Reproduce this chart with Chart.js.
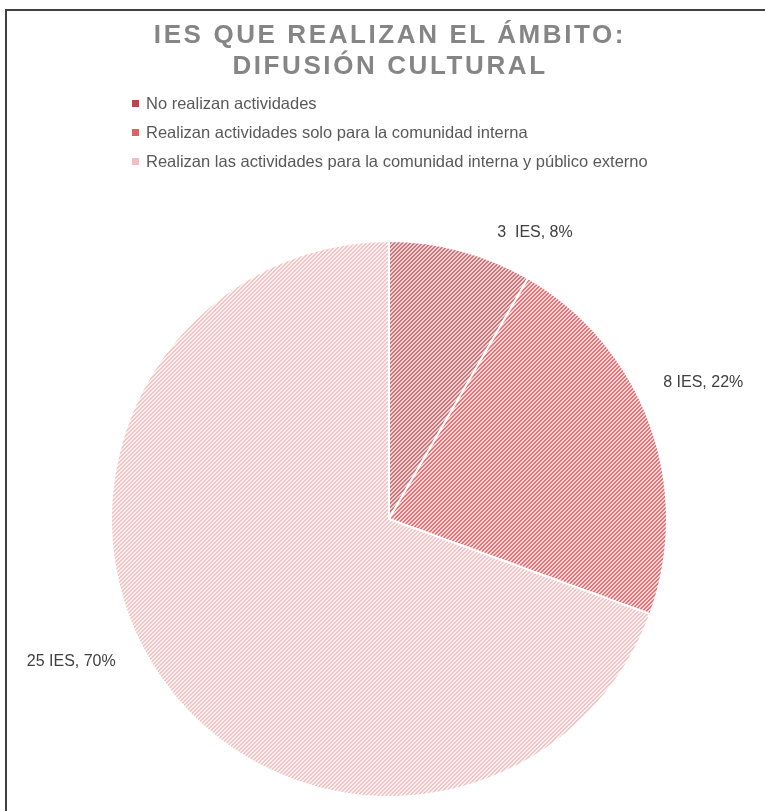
<!DOCTYPE html>
<html lang="es">
<head>
<meta charset="utf-8"/>
<title>IES que realizan el ámbito: Difusión cultural</title>
<script src="https://cdn.jsdelivr.net/npm/chart.js"></script>
<style>
    body {
        margin: 0;
        background: #ffffff;
        font-family: 'Liberation Sans', Arial, sans-serif;
    }
    .frame {
        position: relative;
        width: 765px;
        height: 811px;
        overflow: hidden;
    }
    .frame:before {
        content: '';
        position: absolute;
        left: 5px;
        top: 9px;
        right: 0;
        bottom: 0;
        border-left: 2px solid #404040;
        border-top: 2px solid #404040;
    }
    .title {
        position: absolute;
        left: 0;
        width: 780px;
        top: 19px;
        text-align: center;
        font-weight: bold;
        font-size: 26px;
        line-height: 31px;
        letter-spacing: 2.6px;
        color: #858585;
    }
    .legend {
        position: absolute;
        left: 132px;
        top: 93px;
        font-size: 16.5px;
        color: #595959;
    }
    .legend div {
        height: 29px;
        line-height: 21px;
    }
    .legend span.box {
        display: inline-block;
        width: 7px;
        height: 7px;
        margin-right: 7px;
        vertical-align: 2px;
    }
    canvas {
        position: absolute;
        left: 0;
        top: 0;
    }
</style>
</head>
<body>
<div class="frame">
    <canvas id="pieChart" width="765" height="811"></canvas>
    <div class="title">IES QUE REALIZAN EL ÁMBITO:<br/>DIFUSIÓN CULTURAL</div>
    <div class="legend" id="legend"></div>
</div>
<script>
    // datos
    const categories = [
        'No realizan actividades',
        'Realizan actividades solo para la comunidad interna',
        'Realizan las actividades para la comunidad interna y público externo'
    ];
    const iesCount = [3, 8, 25];
    const percentLabels = ['8%', '22%', '70%'];
    const countLabels = ['3  IES', '8 IES', '25 IES'];

    // colores del rayado (linea, fondo) y del marcador de leyenda
    const stripeColors = [
        ['#c9797d', '#efd0d1'],
        ['#e2777b', '#f8d6d7'],
        ['#f0c5c7', '#fcf1f1']
    ];
    const legendColors = ['#b8474d', '#dc6266', '#efbfc1'];

    function makeStripe(fg, bg) {
        const tile = document.createElement('canvas');
        tile.width = 4;
        tile.height = 4;
        const t = tile.getContext('2d');
        for (let x = 0; x < 4; x++) {
            for (let y = 0; y < 4; y++) {
                t.fillStyle = ((x + y) % 4 < 2) ? fg : bg;
                t.fillRect(x, y, 1, 1);
            }
        }
        return t.createPattern(tile, 'repeat');
    }

    // etiquetas de datos fuera del pastel
    const labelNudge = [[74, -18], [53, -41], [-90, -17]];
    const outsideLabels = {
        id: 'outsideLabels',
        afterDatasetsDraw(chart) {
            const ctx = chart.ctx;
            const arcs = chart.getDatasetMeta(0).data;
            ctx.save();
            ctx.font = '16px "Liberation Sans", Arial, sans-serif';
            ctx.fillStyle = '#404040';
            ctx.textAlign = 'center';
            ctx.textBaseline = 'middle';
            arcs.forEach((arc, i) => {
                const mid = (arc.startAngle + arc.endAngle) / 2;
                const x = arc.x + Math.cos(mid) * arc.outerRadius + labelNudge[i][0];
                const y = arc.y + Math.sin(mid) * arc.outerRadius + labelNudge[i][1];
                ctx.fillText(countLabels[i] + ', ' + percentLabels[i], x, y);
            });
            ctx.restore();
        }
    };

    const pieCtx = document.getElementById('pieChart').getContext('2d');
    const pieChart = new Chart(pieCtx, {
        type: 'pie',
        data: {
            labels: categories,
            datasets: [{
                data: iesCount,
                backgroundColor: stripeColors.map(c => makeStripe(c[0], c[1])),
                borderColor: '#ffffff',
                borderWidth: 2
            }]
        },
        options: {
            responsive: false,
            animation: false,
            layout: {
                padding: { left: 110, right: 97, top: 240, bottom: 13 }
            },
            plugins: {
                legend: { display: false },
                tooltip: { enabled: false }
            }
        },
        plugins: [outsideLabels]
    });

    // leyenda html
    const legendEl = document.getElementById('legend');
    categories.forEach((name, i) => {
        const row = document.createElement('div');
        row.innerHTML = '<span class="box" style="background:' + legendColors[i] + '"></span>' + name;
        legendEl.appendChild(row);
    });
</script>
</body>
</html>
